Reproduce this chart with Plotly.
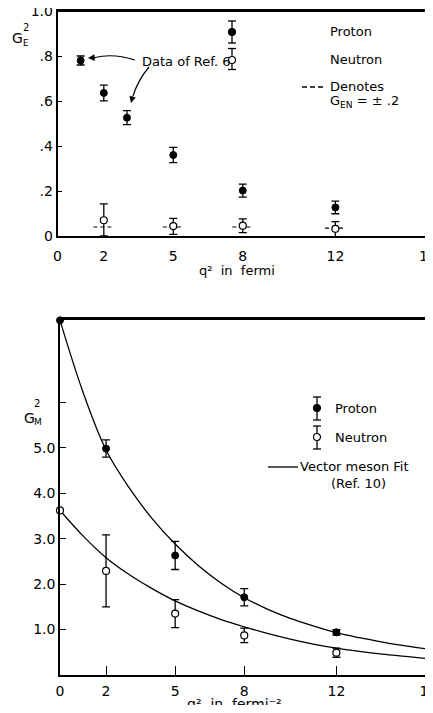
import plotly.graph_objects as go

# The page body has an 8 px margin, so the figure is offset by 8 px.
OFF = 8
W, H = 425, 697


def px(x):
    return (x - OFF) / W


def py(y):
    return 1 - (y - OFF) / H


# ---------------- data ----------------
x_ticks = [0, 2, 5, 8, 12, 16]

# top panel: G_E^2
ge_p_q = [1, 2, 3, 5, 8, 12]
ge_p_val = [0.78, 0.636, 0.526, 0.36, 0.202, 0.127]
ge_p_err = [0.02, 0.035, 0.031, 0.034, 0.029, 0.028]

ge_n_q = [2, 5, 8, 12]
ge_n_val = [0.07, 0.044, 0.046, 0.032]
ge_n_err_plus = [0.073, 0.034, 0.03, 0.032]
ge_n_err_minus = [0.07, 0.037, 0.031, 0.047]
ge_n_dash_y = [0.04, 0.04, 0.04, 0.035]

ge_y_ticks = [0, 0.2, 0.4, 0.6, 0.8, 1.0]
ge_y_text = ["0", ".2", ".4", ".6", ".8", "1.0"]

# bottom panel: G_M^2
gm_p_q = [0, 2, 5, 8, 12]
gm_p_val = [7.8, 4.98, 2.63, 1.71, 0.94]
gm_p_err = [None, 0.19, 0.31, 0.19, 0.06]

gm_n_q = [0, 2, 5, 8, 12]
gm_n_val = [3.62, 2.29, 1.35, 0.87, 0.49]
gm_n_err = [None, 0.79, 0.31, 0.16, 0.10]

# vector meson fit curves at integer q^2
fit_q = list(range(0, 17))
fit_p = [7.8, 6.22, 4.95, 4.12, 3.44, 2.88, 2.41, 2.02, 1.70, 1.45, 1.245,
         1.08, 0.93, 0.82, 0.725, 0.64, 0.57]
fit_n = [3.62, 3.06, 2.58, 2.21, 1.90, 1.63, 1.41, 1.22, 1.06, 0.915, 0.79,
         0.68, 0.59, 0.52, 0.46, 0.41, 0.36]

gm_y_ticks = [1, 2, 3, 4, 5, 6]
gm_y_text = ["1.0", "2.0", "3.0", "4.0", "5.0", ""]

# ---------------- figure ----------------
FONT = "DejaVu Sans"
BLACK = "black"

# panel frames in page pixels (left, top, right, bottom)
TOP_BOX = (57.5, 11.0, 428.0, 236.0)
BOT_BOX = (60.0, 319.0, 428.5, 675.0)

fig = go.Figure()

err_style = dict(color=BLACK, thickness=1.3, width=4)

# top: proton
fig.add_trace(go.Scatter(
    x=ge_p_q, y=ge_p_val, mode="markers", xaxis="x", yaxis="y",
    marker=dict(size=7, color=BLACK, line=dict(color=BLACK, width=1)),
    error_y=dict(type="data", array=ge_p_err, **err_style),
    cliponaxis=False, showlegend=False))

# top: neutron dashes (G_EN = +-0.2)
half = 0.45
for q, yd in zip(ge_n_q, ge_n_dash_y):
    fig.add_trace(go.Scatter(
        x=[q - half, q + half], y=[yd, yd], mode="lines", xaxis="x", yaxis="y",
        line=dict(color=BLACK, width=1.2, dash="4px,3px"),
        cliponaxis=False, showlegend=False, hoverinfo="skip"))

# top: neutron
fig.add_trace(go.Scatter(
    x=ge_n_q, y=ge_n_val, mode="markers", xaxis="x", yaxis="y",
    marker=dict(size=7, color="white", line=dict(color=BLACK, width=1.2)),
    error_y=dict(type="data", symmetric=False, array=ge_n_err_plus,
                 arrayminus=ge_n_err_minus, **err_style),
    cliponaxis=False, showlegend=False))

# bottom: fits
fig.add_trace(go.Scatter(
    x=fit_q, y=fit_p, mode="lines", xaxis="x2", yaxis="y2",
    line=dict(color=BLACK, width=1.3, shape="spline", smoothing=1.0),
    cliponaxis=False, showlegend=False, hoverinfo="skip"))
fig.add_trace(go.Scatter(
    x=fit_q, y=fit_n, mode="lines", xaxis="x2", yaxis="y2",
    line=dict(color=BLACK, width=1.3, shape="spline", smoothing=1.0),
    cliponaxis=False, showlegend=False, hoverinfo="skip"))

# bottom: proton
fig.add_trace(go.Scatter(
    x=gm_p_q, y=gm_p_val, mode="markers", xaxis="x2", yaxis="y2",
    marker=dict(size=7, color=BLACK, line=dict(color=BLACK, width=1)),
    error_y=dict(type="data", array=gm_p_err, **err_style),
    cliponaxis=False, showlegend=False))

# bottom: neutron
fig.add_trace(go.Scatter(
    x=gm_n_q, y=gm_n_val, mode="markers", xaxis="x2", yaxis="y2",
    marker=dict(size=7, color="white", line=dict(color=BLACK, width=1.2)),
    error_y=dict(type="data", array=gm_n_err, **err_style),
    cliponaxis=False, showlegend=False))

axis_common = dict(
    showline=True, linecolor=BLACK, linewidth=1.5, mirror=True,
    showgrid=False, zeroline=False, tickcolor=BLACK, tickwidth=1.3,
    tickfont=dict(family=FONT, size=14, color=BLACK), fixedrange=True,
    automargin=False, ticklabeloverflow="allow",
)

fig.update_layout(
    width=W, height=H,
    margin=dict(l=0, r=0, t=0, b=0, pad=0),
    paper_bgcolor="white", plot_bgcolor="white",
    font=dict(family=FONT, size=13, color=BLACK),
    xaxis=dict(domain=[px(TOP_BOX[0]), px(TOP_BOX[2])], range=[0, 16], anchor="y",
               tickvals=x_ticks, ticktext=[str(v) for v in x_ticks],
               ticks="", ticklabelstandoff=6, **axis_common),
    yaxis=dict(domain=[py(TOP_BOX[3]), py(TOP_BOX[1])], range=[0, 1], anchor="x",
               tickvals=ge_y_ticks, ticktext=ge_y_text,
               ticks="inside", ticklen=5, **axis_common),
    xaxis2=dict(domain=[px(BOT_BOX[0]), px(BOT_BOX[2])], range=[0, 16], anchor="y2",
                tickvals=x_ticks, ticktext=[str(v) for v in x_ticks],
                ticks="inside", ticklen=9, ticklabelstandoff=2, **axis_common),
    yaxis2=dict(domain=[py(BOT_BOX[3]), py(BOT_BOX[1])], range=[0, 7.83], anchor="x2",
                tickvals=gm_y_ticks, ticktext=gm_y_text,
                ticks="inside", ticklen=6, **axis_common),
)

shapes = []
ann = []


def text(x, y, s, size=13, xanchor="center"):
    ann.append(dict(x=px(x), y=py(y), xref="paper", yref="paper", text=s,
                    showarrow=False, xanchor=xanchor, yanchor="middle",
                    font=dict(family=FONT, size=size, color=BLACK)))


def line(x0, y0, x1, y1, dash=None, w=1.3):
    d = dict(type="line", xref="paper", yref="paper", x0=px(x0), y0=py(y0),
             x1=px(x1), y1=py(y1), line=dict(color=BLACK, width=w),
             layer="above")
    if dash:
        d["line"]["dash"] = dash
    shapes.append(d)


def dot(cx, cy, filled=True, r=3.5):
    shapes.append(dict(type="circle", xref="paper", yref="paper",
                       x0=px(cx - r), x1=px(cx + r), y0=py(cy + r), y1=py(cy - r),
                       fillcolor=BLACK if filled else "white",
                       line=dict(color=BLACK, width=1.2)))


def errglyph(cx, cy, top, bot, filled):
    line(cx, top, cx, bot)
    line(cx - 4, top, cx + 4, top)
    line(cx - 4, bot, cx + 4, bot)
    dot(cx, cy, filled)


# explicit frame edges (top and right) for both panels, as separate lines
for (l, t, r, b) in (TOP_BOX, BOT_BOX):
    line(l, t, r, t, w=2)
    line(r, t, r, b, w=2)

# axis labels
text(17.5, 37.5, "G", 14)
text(26, 42.5, "E", 9)
text(26, 28, "2", 10)
text(237, 270, "q²  in  fermi", 13)

text(29, 417.5, "G", 14)
text(37.5, 421.5, "M", 9)
text(37, 403.5, "2", 10)
text(235, 704, "q²  in  fermi⁻²", 14)

# top legend
errglyph(232, 32, 21, 43, True)
text(328, 32, "Proton", 13, "left")
errglyph(232, 60, 48.5, 69.5, False)
text(328, 60, "Neutron", 13, "left")
line(302, 87, 323, 87, dash="5px,3px")
text(328, 87, "Denotes", 13, "left")
text(328, 101, "G<sub>EN</sub> = ± .2", 13, "left")

# "Data of Ref. 6" with curved arrows
text(140, 61, "Data of Ref. 6", 13, "left")
shapes.append(dict(type="path", xref="paper", yref="paper",
                   path=f"M {px(135)},{py(60)} Q {px(113)},{py(53)} {px(95)},{py(57.5)}",
                   line=dict(color=BLACK, width=1.2)))
shapes.append(dict(type="path", xref="paper", yref="paper",
                   path=f"M {px(149)},{py(67)} Q {px(138)},{py(80)} {px(133)},{py(96)}",
                   line=dict(color=BLACK, width=1.2)))
ann.append(dict(x=px(88), y=py(58), xref="paper", yref="paper", text="",
                showarrow=True, ax=9, ay=-0.5,
                arrowhead=2, arrowsize=1.1, arrowwidth=1.2, arrowcolor=BLACK))
ann.append(dict(x=px(131), y=py(103), xref="paper", yref="paper", text="",
                showarrow=True, ax=2, ay=-8,
                arrowhead=2, arrowsize=1.1, arrowwidth=1.2, arrowcolor=BLACK))

# bottom legend
errglyph(317, 408, 397, 420, True)
text(333, 408, "Proton", 13, "left")
errglyph(317, 437, 426, 449, False)
text(333, 437, "Neutron", 13, "left")
line(268, 467, 298, 467)
text(298, 466, "Vector meson Fit", 13, "left")
text(329, 483, "(Ref. 10)", 13, "left")

fig.update_layout(shapes=shapes, annotations=ann)

fig.write_html("out.html")
